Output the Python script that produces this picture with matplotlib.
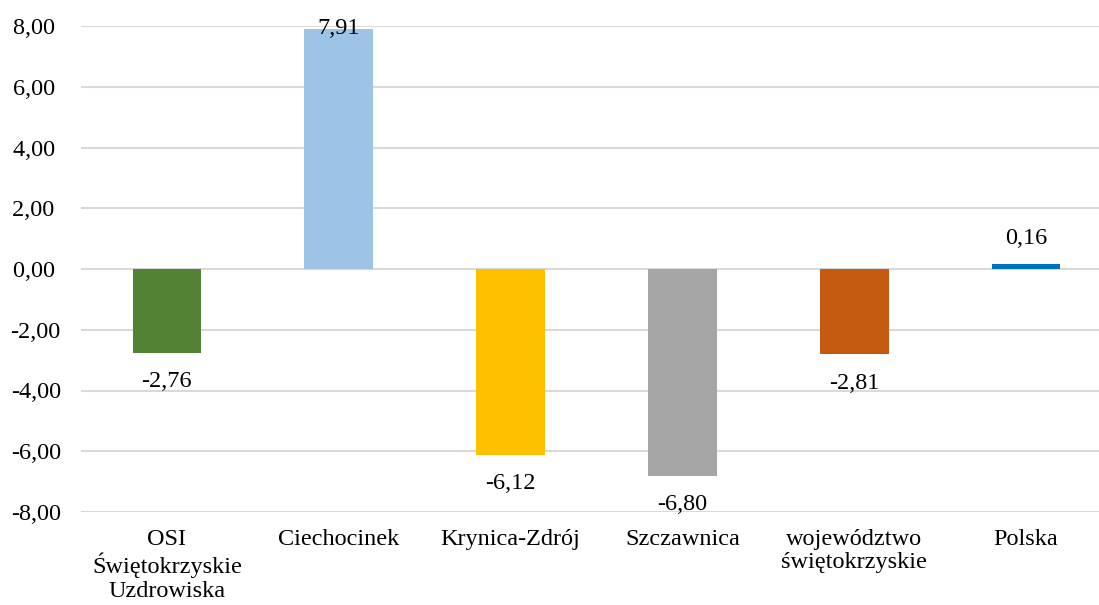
import matplotlib
matplotlib.use("Agg")
import matplotlib.pyplot as plt

categories = ["OSI\nŚwiętokrzyskie\nUzdrowiska", "Ciechocinek", "Krynica-Zdrój",
              "Szczawnica", "województwo\nświętokrzyskie", "Polska"]
values = [-2.76, 7.91, -6.12, -6.80, -2.81, 0.16]
colors = ["#548235", "#9DC3E6", "#FFC000", "#A5A5A5", "#C55A11", "#0070C0"]
yticks = [-8, -6, -4, -2, 0, 2, 4, 6, 8]

plt.rcParams['font.family'] = ['Liberation Serif', 'DejaVu Serif']
fs = 17.5

fig = plt.figure(figsize=(10.99, 6.05), dpi=100)
ax = fig.add_axes([81/1099, (605-512)/605, 1031/1099, 486/605])
x = list(range(len(categories)))
ax.bar(x, values, width=0.4, color=colors, zorder=3)
ax.set_xlim(-0.5, len(categories) - 0.5)
ax.set_ylim(-8, 8)
ax.set_yticks(yticks)
ylabels = [f"{v:.2f}".replace(".", ",") + (" " if v >= 0 else "") for v in yticks]
ax.set_yticklabels(ylabels, fontsize=fs)
ax.set_xticks(x)
ax.set_xticklabels(categories, fontsize=fs, linespacing=1.16)
ax.tick_params(axis='y', length=0, pad=14.5)
ax.tick_params(axis='x', length=0, pad=12)
for s in ax.spines.values():
    s.set_visible(False)
ax.grid(axis='y', color='#D9D9D9', linewidth=1.5, zorder=0)
ax.set_axisbelow(True)

for xi, v in zip(x, values):
    lab = f"{v:.2f}".replace(".", ",")
    if v >= 7.5:
        ax.annotate(lab, (xi, v), xytext=(0, 0), textcoords='offset pixels',
                    ha='center', va='center', fontsize=fs, zorder=4, annotation_clip=False)
    elif v >= 0:
        ax.annotate(lab, (xi, v), xytext=(0, 26), textcoords='offset pixels',
                    ha='center', va='center', fontsize=fs, zorder=4)
    else:
        ax.annotate(lab, (xi, v), xytext=(0, -29), textcoords='offset pixels',
                    ha='center', va='center', fontsize=fs, zorder=4)

fig.savefig("out.png", dpi=100)
